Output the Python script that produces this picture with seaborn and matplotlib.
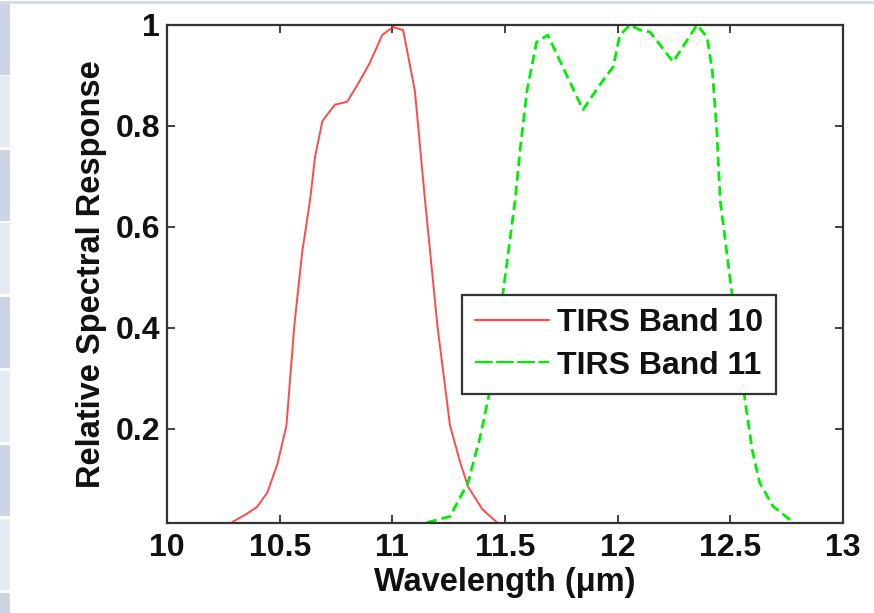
import matplotlib
matplotlib.use("Agg")
import matplotlib.pyplot as plt
from matplotlib.patches import Rectangle
from matplotlib.lines import Line2D
import numpy as np
import pandas as pd
import seaborn as sns

# ---- data ----
band10_wl = [10.29, 10.35, 10.40, 10.445, 10.49, 10.53, 10.565, 10.60, 10.635, 10.657,
             10.69, 10.745, 10.80, 10.85, 10.90, 10.955, 11.003, 11.048, 11.10, 11.145,
             11.167, 11.20, 11.256, 11.30, 11.336, 11.40, 11.465]
band10_rsr = [0.015, 0.03, 0.045, 0.073, 0.13, 0.206, 0.404, 0.55, 0.653, 0.739,
              0.81, 0.842, 0.848, 0.885, 0.925, 0.98, 0.996, 0.99, 0.87, 0.653,
              0.554, 0.404, 0.206, 0.135, 0.085, 0.04, 0.014]

band11_wl = [11.155, 11.256, 11.336, 11.39, 11.434, 11.49, 11.545, 11.567, 11.598, 11.64,
             11.69, 11.846, 11.92, 11.98, 12.01, 12.055, 12.10, 12.144, 12.246, 12.352,
             12.397, 12.42, 12.44, 12.455, 12.508, 12.565, 12.597, 12.63, 12.69, 12.78]
band11_rsr = [0.014, 0.026, 0.093, 0.184, 0.277, 0.465, 0.653, 0.752, 0.871, 0.966,
              0.98, 0.832, 0.881, 0.917, 0.98, 1.0, 0.99, 0.986, 0.927, 1.0,
              0.976, 0.91, 0.79, 0.653, 0.465, 0.257, 0.158, 0.093, 0.046, 0.014]

series_names = ["TIRS Band 10", "TIRS Band 11"]
x_ticks = [10, 10.5, 11, 11.5, 12, 12.5, 13]
x_tick_labels = ["10", "10.5", "11", "11.5", "12", "12.5", "13"]
y_ticks = [0.2, 0.4, 0.6, 0.8, 1.0]
y_tick_labels = ["0.2", "0.4", "0.6", "0.8", "1"]

df = pd.concat([
    pd.DataFrame({"wl": band10_wl, "rsr": band10_rsr, "band": series_names[0]}),
    pd.DataFrame({"wl": band11_wl, "rsr": band11_rsr, "band": series_names[1]}),
], ignore_index=True)

sns.set_theme(style="ticks")
plt.rcParams["font.family"] = ["Liberation Sans", "DejaVu Sans"]
plt.rcParams["font.weight"] = "bold"

fig = plt.figure(figsize=(8.74, 6.13), dpi=100)
fig.patch.set_facecolor("white")

# screenshot frame decorations
fig.patches.append(Rectangle((0, 1 - 4 / 613), 1, 3 / 613, transform=fig.transFigure,
                             facecolor="#d6dcea", edgecolor="none", zorder=0))
block_tops = [4, 76, 150, 223, 297, 371, 445, 519, 593]
for i, t in enumerate(block_tops):
    h = 71
    col = "#cdd5e5" if i % 2 == 0 else "#e6eaf2"
    fig.patches.append(Rectangle((0, 1 - (t + h) / 613), 10 / 874, h / 613,
                                 transform=fig.transFigure, facecolor=col,
                                 edgecolor="none", zorder=0))

ax = fig.add_axes([167 / 874, 1 - 523 / 613, (843 - 167) / 874, (523 - 25) / 613])

red = "#ff2a2a"
green = "#00ee00"
sns.lineplot(data=df, x="wl", y="rsr", hue="band", style="band",
             palette={series_names[0]: red, series_names[1]: green},
             dashes={series_names[0]: "", series_names[1]: (3.5, 1.8)},
             sort=False, estimator=None, ax=ax, legend=False)
lines = ax.get_lines()
lines[0].set_linewidth(1.4)
lines[0].set_alpha(0.85)
lines[1].set_linewidth(2.0)

ax.set_xlim(10, 13)
ax.set_ylim(0.013, 1.0)
ax.set_xticks(x_ticks)
ax.set_xticklabels(x_tick_labels)
ax.set_yticks(y_ticks)
ax.set_yticklabels(y_tick_labels)
ax.tick_params(direction="in", length=6, width=1.3, color="#333333",
               top=True, right=True, labelsize=23, labelcolor="#111111")
ax.tick_params(axis="y", pad=5)
ax.tick_params(axis="x", pad=7)
for lab in ax.get_xticklabels() + ax.get_yticklabels():
    lab.set_fontweight("bold")
for sp in ax.spines.values():
    sp.set_visible(True)
    sp.set_linewidth(1.6)
    sp.set_color("#333333")

ax.set_xlabel("Wavelength (\u03bcm)", fontsize=23.5, fontweight="bold", color="#111111", labelpad=3)
ax.set_ylabel("Relative Spectral Response", fontsize=23.5, fontweight="bold", color="#111111", labelpad=6)

handles = [Line2D([], [], color=red, lw=1.6, alpha=0.85),
           Line2D([], [], color=green, lw=1.6, dashes=(8, 1.5))]
leg = ax.legend(handles, series_names, loc="upper left",
                bbox_to_anchor=((462 - 167) / 676, 1 - (295 - 25) / 498),
                fontsize=23, frameon=True, fancybox=False, handlelength=2.3,
                handletextpad=0.25, borderpad=0.42, labelspacing=0.38,
                borderaxespad=0)
leg.get_frame().set_edgecolor("#333333")
leg.get_frame().set_linewidth(1.6)
leg.get_frame().set_alpha(1)
for t in leg.get_texts():
    t.set_fontweight("bold")
    t.set_color("#111111")

fig.savefig("out.png", dpi=100)
